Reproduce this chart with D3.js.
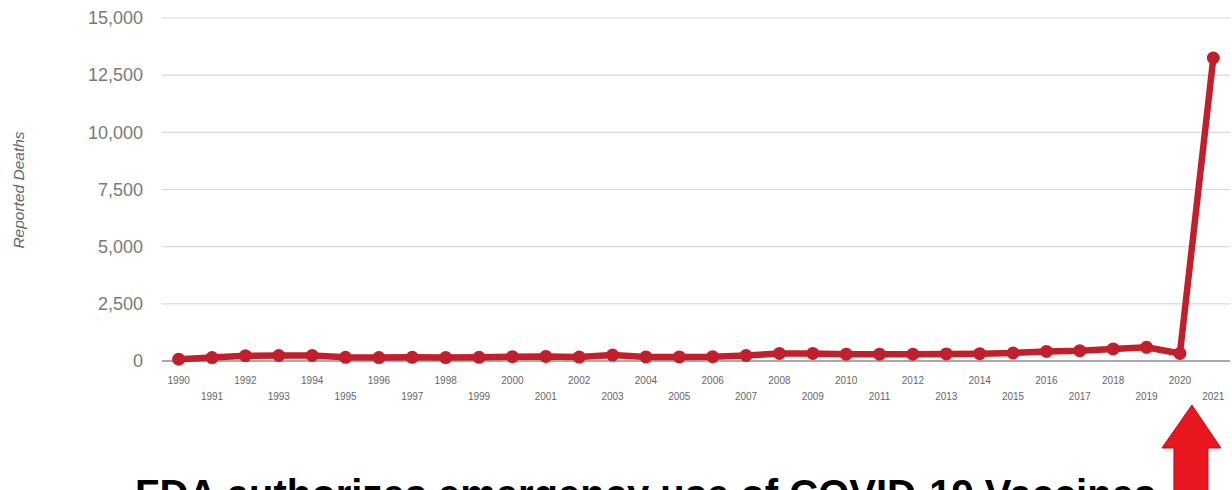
<!DOCTYPE html>
<html>
<head>
<meta charset="utf-8">
<script src="https://cdn.jsdelivr.net/npm/d3@7"></script>
<style>
  html, body { margin: 0; padding: 0; background: #fff; overflow: hidden; }
  svg { display: block; }
</style>
</head>
<body>
<svg id="chart" width="1232" height="490"></svg>
<script>
const years = [1990,1991,1992,1993,1994,1995,1996,1997,1998,1999,2000,2001,2002,2003,2004,2005,2006,2007,2008,2009,2010,2011,2012,2013,2014,2015,2016,2017,2018,2019,2020,2021];
const deaths = [80,150,230,240,240,160,150,160,150,160,190,200,170,260,180,180,190,240,330,330,300,300,300,310,320,350,420,450,530,600,330,13250];
const yTicks = [0,2500,5000,7500,10000,12500,15000];
const yLabel = "Reported Deaths";
const caption = "FDA authorizes emergency use of COVID-19 Vaccines";

(function () {
const svg = d3.select("#chart");
const plotLeft = 162, plotRight = 1230, plotTop = 18, plotBottom = 361;

const x = d3.scalePoint().domain(years).range([plotLeft, plotRight]).padding(0.5);
const y = d3.scaleLinear().domain([0, 15000]).range([plotBottom, plotTop]);

// gridlines
svg.append("g").selectAll("line").data(yTicks.filter(d => d > 0)).join("line")
  .attr("x1", plotLeft).attr("x2", plotRight)
  .attr("y1", d => y(d)).attr("y2", d => y(d))
  .attr("stroke", "#d9d9d9").attr("stroke-width", 1.2);

// y axis labels
const yAxis = d3.axisLeft(y).tickValues(yTicks).tickSize(0).tickPadding(0)
  .tickFormat(d3.format(","));
svg.append("g").attr("transform", `translate(${plotLeft - 19},0)`).call(yAxis)
  .call(g => g.select(".domain").remove())
  .call(g => g.selectAll("text").attr("font-family", "Liberation Sans, Arial, sans-serif")
    .attr("font-size", 18).attr("fill", "#7a7a7a"));

// baseline
svg.append("line").attr("x1", plotLeft).attr("x2", plotRight)
  .attr("y1", y(0)).attr("y2", y(0)).attr("stroke", "#555").attr("stroke-width", 1.2);

// x labels (staggered)
svg.append("g").selectAll("text").data(years).join("text")
  .attr("x", d => x(d))
  .attr("y", (d, i) => i % 2 === 0 ? plotBottom + 23 : plotBottom + 39)
  .attr("text-anchor", "middle")
  .attr("font-family", "Liberation Sans, Arial, sans-serif")
  .attr("font-size", 10).attr("fill", "#666")
  .text(d => d);

// y axis title
svg.append("text")
  .attr("transform", `translate(24,190) rotate(-90)`)
  .attr("text-anchor", "middle")
  .attr("font-family", "Liberation Sans, Arial, sans-serif")
  .attr("font-size", 15.5).attr("font-style", "italic").attr("fill", "#666")
  .text(yLabel);

// line
const lineColor = "#c01f2b";
const data = years.map((yr, i) => ({ yr, v: deaths[i] }));
svg.append("path").datum(data)
  .attr("fill", "none").attr("stroke", lineColor).attr("stroke-width", 6.5)
  .attr("stroke-linejoin", "round")
  .attr("d", d3.line().x(d => x(d.yr)).y(d => y(d.v)));
svg.append("g").selectAll("circle").data(data).join("circle")
  .attr("cx", d => x(d.yr)).attr("cy", d => y(d.v)).attr("r", 6.5)
  .attr("fill", lineColor);

// arrow
const ax = x(2020) + 12;
const arrow = d3.path();
arrow.moveTo(ax, 405);
arrow.lineTo(ax + 29, 448);
arrow.lineTo(ax + 16, 448);
arrow.lineTo(ax + 16, 495);
arrow.lineTo(ax - 18, 495);
arrow.lineTo(ax - 18, 448);
arrow.lineTo(ax - 30, 448);
arrow.closePath();
svg.append("path").attr("d", arrow.toString())
  .attr("fill", "#e8161f").attr("stroke", "#b81018").attr("stroke-width", 1);

// caption (cut off at bottom, as in the reference)
svg.append("text")
  .attr("x", 135).attr("y", 508)
  .attr("font-family", "Liberation Sans, Arial, sans-serif")
  .attr("font-size", 40).attr("font-weight", "bold").attr("fill", "#000")
  .text(caption);
})();
</script>
</body>
</html>
